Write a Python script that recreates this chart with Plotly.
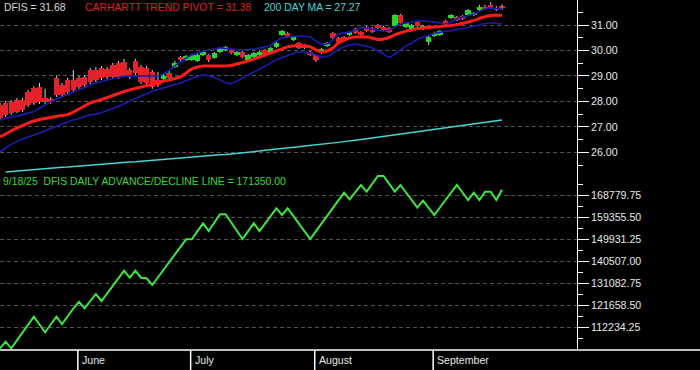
import pandas as pd
import plotly.graph_objects as go

# ---------------- data ----------------
holidays = ["2025-05-26", "2025-06-19", "2025-07-04", "2025-09-01"]
dates = [d for d in pd.bdate_range("2025-05-12", "2025-09-18") if d.strftime("%Y-%m-%d") not in holidays]

opens = [27.86, 27.94, 27.98, 28.05, 28.05, 28.37, 28.53, 28.57, 28.13, 28.09,
         28.92, 28.64, 28.84, 28.84, 28.92, 28.96, 29.23, 29.23, 29.31, 29.27,
         29.43, 29.51, 29.55, 29.23, 29.59, 29.35, 29.31, 29.15, 28.84, 28.88,
         29.11, 29.35, 29.74, 29.63, 29.63, 29.59, 29.82, 29.82, 29.70, 29.94,
         30.02, 30.02, 29.82, 29.94, 29.63, 29.74, 29.82, 30.02, 29.90, 30.14,
         30.61, 30.69, 30.41, 30.29, 30.21, 29.94, 29.82, 29.90, 30.18, 30.69,
         30.49, 30.53, 30.61, 30.84, 30.73, 30.92, 30.88, 31.00, 30.92, 30.88,
         30.96, 31.39, 30.92, 30.84, 31.12, 30.84, 30.33, 30.57, 30.61, 31.16,
         31.28, 31.31, 31.35, 31.39, 31.39, 31.59, 31.71, 31.79, 31.67, 31.72]
closes = [27.35, 27.47, 27.54, 27.58, 27.66, 27.86, 27.94, 27.98, 27.98, 27.98,
          28.25, 28.25, 28.37, 28.45, 28.57, 28.64, 28.76, 28.84, 28.92, 28.96,
          28.96, 28.96, 29.04, 28.96, 29.11, 28.76, 28.72, 28.57, 28.64, 29.00,
          28.92, 29.51, 29.63, 29.78, 29.82, 29.82, 29.94, 29.63, 29.90, 30.10,
          30.14, 29.90, 29.94, 29.74, 29.82, 29.90, 29.94, 29.82, 30.10, 30.29,
          30.76, 30.53, 30.53, 30.10, 30.10, 29.82, 29.63, 30.06, 30.29, 30.49,
          30.33, 30.37, 30.73, 30.69, 30.61, 30.76, 30.73, 30.88, 30.80, 30.73,
          31.39, 31.08, 31.08, 31.00, 30.96, 30.96, 30.53, 30.69, 30.76, 31.04,
          31.39, 31.20, 31.24, 31.59, 31.47, 31.71, 31.63, 31.67, 31.59, 31.68]
highs = [27.94, 28.01, 28.05, 28.13, 28.13, 28.45, 28.60, 28.72, 28.49, 28.17,
         29.00, 28.72, 28.92, 29.23, 29.00, 29.04, 29.31, 29.35, 29.39, 29.35,
         29.51, 29.59, 29.67, 29.31, 29.67, 29.43, 29.39, 29.23, 29.15, 29.08,
         29.19, 29.59, 29.78, 29.82, 29.86, 29.90, 29.98, 29.86, 29.94, 30.14,
         30.18, 30.06, 29.98, 29.98, 29.86, 29.94, 29.98, 30.06, 30.14, 30.33,
         30.80, 30.73, 30.57, 30.33, 30.25, 29.98, 29.86, 30.10, 30.33, 30.73,
         30.53, 30.57, 30.76, 30.88, 30.76, 30.96, 30.92, 31.04, 30.96, 30.92,
         31.43, 31.43, 31.12, 31.04, 31.16, 31.00, 30.57, 30.73, 30.80, 31.20,
         31.43, 31.35, 31.39, 31.63, 31.51, 31.79, 31.79, 31.90, 31.75, 31.80]
lows = [27.27, 27.39, 27.47, 27.54, 27.58, 27.78, 27.86, 27.90, 27.90, 27.90,
        28.17, 28.17, 28.29, 28.37, 28.49, 28.57, 28.68, 28.76, 28.84, 28.88,
        28.88, 28.88, 28.96, 28.88, 29.04, 28.68, 28.64, 28.49, 28.57, 28.84,
        28.84, 29.31, 29.55, 29.59, 29.59, 29.55, 29.78, 29.55, 29.67, 29.90,
        29.98, 29.86, 29.78, 29.70, 29.59, 29.70, 29.78, 29.78, 29.86, 30.10,
        30.57, 30.49, 30.37, 30.06, 30.06, 29.78, 29.55, 29.86, 30.14, 30.45,
        30.29, 30.33, 30.57, 30.65, 30.57, 30.73, 30.69, 30.84, 30.76, 30.69,
        30.92, 31.04, 30.88, 30.80, 30.92, 30.80, 30.21, 30.53, 30.57, 31.00,
        31.24, 31.16, 31.20, 31.35, 31.35, 31.55, 31.59, 31.63, 31.55, 31.60]

trend_pivot = [26.60, 26.72, 26.84, 26.95, 27.05, 27.15, 27.23, 27.29, 27.33, 27.37,
               27.41, 27.45, 27.48, 27.58, 27.70, 27.82, 27.94, 28.01, 28.07, 28.15,
               28.23, 28.31, 28.39, 28.45, 28.51, 28.56, 28.62, 28.68, 28.74, 28.80,
               28.84, 28.90, 28.96, 29.12, 29.27, 29.35, 29.39, 29.39, 29.39, 29.39,
               29.39, 29.41, 29.47, 29.53, 29.59, 29.66, 29.74, 29.82, 29.90, 29.98,
               30.06, 30.14, 30.18, 30.21, 30.18, 30.14, 30.02, 29.94, 29.98, 30.10,
               30.29, 30.41, 30.49, 30.53, 30.53, 30.53, 30.49, 30.43, 30.45, 30.51,
               30.61, 30.69, 30.76, 30.80, 30.86, 30.88, 30.90, 30.92, 30.94, 30.96,
               30.98, 31.02, 31.06, 31.12, 31.18, 31.26, 31.33, 31.37, 31.38, 31.38]
upper_band = [27.27, 27.33, 27.39, 27.43, 27.48, 27.54, 27.60, 27.74, 27.86, 27.98,
              28.09, 28.17, 28.27, 28.37, 28.45, 28.55, 28.64, 28.72, 28.78, 28.84,
              28.90, 28.94, 28.98, 29.00, 29.00, 29.00, 29.00, 29.00, 29.00, 29.08,
              29.23, 29.39, 29.55, 29.70, 29.82, 29.90, 29.96, 30.02, 30.06, 30.10,
              30.08, 30.06, 30.04, 30.02, 30.04, 30.06, 30.10, 30.14, 30.21, 30.37,
              30.49, 30.53, 30.55, 30.57, 30.55, 30.53, 30.37, 30.25, 30.25, 30.41,
              30.65, 30.69, 30.73, 30.80, 30.88, 30.88, 30.84, 30.80, 30.76, 30.80,
              30.92, 31.04, 31.08, 31.12, 31.16, 31.16, 31.14, 31.12, 31.08, 31.04,
              31.12, 31.24, 31.31, 31.37, 31.43, 31.53, 31.63, 31.67, 31.65, 31.63]
lower_band = [26.01, 26.17, 26.31, 26.42, 26.52, 26.60, 26.68, 26.76, 26.84, 26.94,
              27.01, 27.11, 27.19, 27.27, 27.33, 27.41, 27.47, 27.50, 27.56, 27.64,
              27.72, 27.80, 27.90, 28.02, 28.11, 28.21, 28.29, 28.41, 28.47, 28.53,
              28.60, 28.66, 28.72, 28.82, 28.90, 28.98, 29.04, 29.00, 28.94, 28.84,
              28.74, 28.70, 28.80, 28.92, 29.04, 29.15, 29.27, 29.39, 29.51, 29.63,
              29.72, 29.80, 29.88, 29.94, 29.92, 29.90, 29.82, 29.74, 29.76, 29.90,
              30.04, 30.14, 30.21, 30.25, 30.21, 30.16, 30.10, 29.98, 29.86, 29.74,
              29.86, 30.02, 30.18, 30.29, 30.43, 30.53, 30.59, 30.67, 30.71, 30.75,
              30.78, 30.82, 30.86, 30.90, 30.96, 31.00, 31.06, 31.08, 31.06, 31.04]
ma200 = [None, 25.23, 25.25, 25.27, 25.28, 25.30, 25.32, 25.34, 25.35, 25.37,
         25.39, 25.41, 25.42, 25.44, 25.46, 25.48, 25.49, 25.51, 25.53, 25.55,
         25.56, 25.58, 25.60, 25.62, 25.63, 25.65, 25.67, 25.69, 25.70, 25.72,
         25.74, 25.76, 25.77, 25.79, 25.81, 25.83, 25.84, 25.86, 25.88, 25.90,
         25.91, 25.93, 25.95, 25.98, 26.00, 26.03, 26.05, 26.08, 26.10, 26.12,
         26.15, 26.17, 26.20, 26.22, 26.25, 26.27, 26.30, 26.32, 26.34, 26.37,
         26.39, 26.42, 26.44, 26.47, 26.50, 26.53, 26.56, 26.59, 26.62, 26.65,
         26.69, 26.72, 26.75, 26.78, 26.81, 26.84, 26.87, 26.90, 26.93, 26.96,
         26.99, 27.02, 27.06, 27.09, 27.12, 27.15, 27.18, 27.21, 27.24, 27.27]
ad_line = [103410, 106237, 103410, 106794, 110178, 113562, 116947, 113605, 110264, 113605,
           116947, 113819, 117246, 120459, 123372, 120545, 123672, 126671, 123672, 126971,
           130183, 133439, 136652, 133653, 136652, 133653, 133396, 130526, 133782, 137037,
           140293, 143549, 146847, 150103, 150103, 153530, 156957, 153658, 157214, 160812,
           160812, 157300, 153744, 150231, 153573, 156957, 153658, 156914, 160127, 163382,
           160512, 163382, 160127, 156828, 153530, 150231, 153530, 156871, 160127, 163468,
           166767, 170065, 167238, 170365, 173364, 170494, 173835, 177219, 177219, 173792,
           170494, 173364, 170151, 166895, 163639, 166638, 163597, 160512, 163725, 166938,
           170151, 173364, 170151, 166938, 170065, 166938, 170494, 170494, 166938, 171350]

price_ticks = [26, 27, 28, 29, 30, 31]
price_minor = [25.5, 26.5, 27.5, 28.5, 29.5, 30.5, 31.5]
ad_ticks = [112234.25, 121658.50, 131082.75, 140507.00, 149931.25, 159355.50, 168779.75]
ad_minor = [107522.19, 116946.38, 126370.63, 135794.88, 145219.13, 154643.38, 164067.63, 173491.88]
month_names = {6: "June", 7: "July", 8: "August", 9: "September"}

# ---------------- figure ----------------
FONT = "Liberation Sans, Arial, sans-serif"
TXT = 10.4
idx = list(range(len(dates)))
RED, GREEN = "#e3222a", "#2bd62b"
body_colors = [GREEN if c > o else RED for o, c in zip(opens, closes)]

fig = go.Figure()

# wicks (split around body so bodies stay clean)
wx, wy = [], []
for i, (o, h, l, c) in enumerate(zip(opens, highs, lows, closes)):
    top, bot = max(o, c), min(o, c)
    wx += [i, i, None, i, i, None]
    wy += [h, top, None, bot, l, None]
fig.add_trace(go.Scatter(x=wx, y=wy, mode="lines", line=dict(color="#d8d8d8", width=1),
                         xaxis="x2", yaxis="y", hoverinfo="skip"))

fig.add_trace(go.Bar(x=idx, y=[abs(c - o) for o, c in zip(opens, closes)],
                     base=[min(o, c) for o, c in zip(opens, closes)],
                     marker=dict(color=body_colors, line=dict(width=0)),
                     width=0.97, xaxis="x2", yaxis="y"))

fig.add_trace(go.Scatter(x=idx, y=ma200, mode="lines", line=dict(color="#45d6d6", width=1.5),
                         xaxis="x2", yaxis="y"))
fig.add_trace(go.Scatter(x=idx, y=lower_band, mode="lines", line=dict(color="#1c1cb0", width=1.6, shape="spline"),
                         xaxis="x2", yaxis="y"))
fig.add_trace(go.Scatter(x=idx, y=upper_band, mode="lines", line=dict(color="#1c1cb0", width=1.6, shape="spline"),
                         xaxis="x2", yaxis="y"))
fig.add_trace(go.Scatter(x=idx, y=trend_pivot, mode="lines", line=dict(color="#ff1c1c", width=3, shape="spline"),
                         xaxis="x2", yaxis="y"))

fig.add_trace(go.Scatter(x=idx, y=ad_line, mode="lines", line=dict(color="#3ee63e", width=2),
                         xaxis="x", yaxis="y2"))

XR = [0, 102.3]
axis_common = dict(side="right", showline=True, linecolor="white", linewidth=1,
                   ticks="outside", ticklen=11, tickcolor="white", tickwidth=1,
                   tickfont=dict(family=FONT, size=10.6, color="#e8e8e8"),
                   showgrid=True, gridcolor="#555555", gridwidth=1, griddash="4px,3px",
                   zeroline=False, fixedrange=True, automargin=False)

fig.update_layout(
    width=700, height=370, autosize=False,
    paper_bgcolor="black", plot_bgcolor="black",
    margin=dict(l=0, r=123, t=0, b=20, pad=0),
    showlegend=False, bargap=0,
    xaxis=dict(domain=[0, 1], anchor="y2", range=XR, visible=False, fixedrange=True),
    xaxis2=dict(domain=[0, 1], anchor="y", matches="x", range=XR, visible=False, fixedrange=True),
    yaxis=dict(domain=[0.5, 1], anchor="x2", range=[25.109, 31.982],
               tickvals=price_ticks, ticktext=[f"{v:.2f}" for v in price_ticks],
               minor=dict(tickvals=price_minor, ticks="outside", ticklen=5, tickcolor="white", showgrid=False),
               **axis_common),
    yaxis2=dict(domain=[0, 0.5], anchor="x", range=[102682, 177647],
                tickvals=ad_ticks, ticktext=[f"{v:.2f}" for v in ad_ticks],
                minor=dict(tickvals=ad_minor, ticks="outside", ticklen=5, tickcolor="white", showgrid=False),
                **axis_common),
)

# bottom axis line across the full width
fig.add_shape(type="line", xref="paper", yref="paper", x0=0, x1=700 / 577, y0=0, y1=0,
              line=dict(color="white", width=1.5))

# month separators and labels
for i in range(1, len(dates)):
    if dates[i].month != dates[i - 1].month:
        xs = i - 0.2
        fig.add_shape(type="line", xref="x", yref="paper", x0=xs, x1=xs, y0=0, y1=-20 / 350,
                      line=dict(color="white", width=1.5))
        fig.add_annotation(x=xs, xref="x", y=-10 / 350, yref="paper", text=month_names[dates[i].month],
                           showarrow=False, xanchor="left", yanchor="middle", xshift=2,
                           font=dict(family=FONT, size=10.6, color="#e8e8e8"))

# header texts
hdr = [(2, 7, f"DFIS = {closes[-1]:.2f}", "#d8d8d8"),
       (83, 7, f"CARHARTT TREND PIVOT = {trend_pivot[-1]:.2f}", "#e0201e"),
       (262, 7, f"200 DAY MA = {ma200[-1]:.2f}", "#45d6d6"),
       (1, 181, f"{dates[-1].month}/{dates[-1].day}/{dates[-1].strftime('%y')}  DFIS DAILY ADVANCE/DECLINE LINE = {ad_line[-1]:.2f}", "#3ad83a")]
for px, py, txt, col in hdr:
    fig.add_annotation(x=px / 577, xref="paper", y=1 - py / 350, yref="paper", text=txt,
                       showarrow=False, xanchor="left", yanchor="middle",
                       font=dict(family=FONT, size=TXT, color=col))

fig.write_html("out.html")
